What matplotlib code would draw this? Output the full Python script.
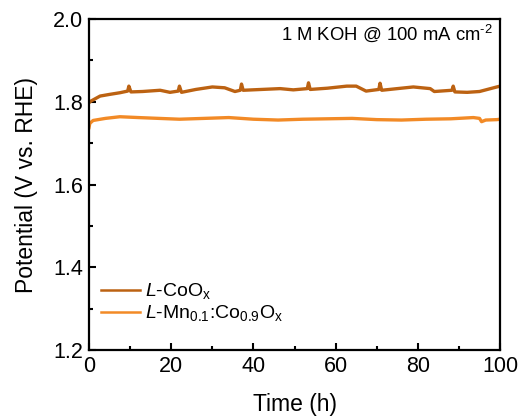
import matplotlib
matplotlib.use('Agg')
import matplotlib.pyplot as plt
from matplotlib.ticker import MultipleLocator, FormatStrFormatter

plt.rcParams['font.family'] = ['Liberation Sans', 'DejaVu Sans']
plt.rcParams['mathtext.fontset'] = 'custom'
plt.rcParams['mathtext.rm'] = 'Liberation Sans'
plt.rcParams['mathtext.it'] = 'Liberation Sans:italic'

# L-CoOx trace
coox_t = [0.0, 0.5, 2.7, 5.0, 7.5, 9.4, 9.7, 10.2, 13.0, 17.3, 19.7, 21.7, 22.0, 22.5,
          26.0, 30.0, 33.0, 35.5, 36.8, 37.1, 37.5, 42.0, 46.5, 49.7, 53.1, 53.4, 53.8,
          58.0, 62.7, 65.0, 67.4, 70.5, 70.8, 71.2, 75.0, 78.9, 83.0, 84.0, 88.3, 88.6,
          89.0, 92.0, 95.0, 99.2, 100.0]
coox_v = [1.798, 1.802, 1.814, 1.818, 1.822, 1.826, 1.838, 1.824, 1.825, 1.828, 1.823, 1.826, 1.838, 1.823,
          1.830, 1.836, 1.834, 1.825, 1.828, 1.843, 1.828, 1.830, 1.832, 1.829, 1.832, 1.846, 1.830,
          1.833, 1.838, 1.838, 1.826, 1.830, 1.845, 1.828, 1.832, 1.836, 1.832, 1.825, 1.828, 1.838,
          1.824, 1.823, 1.825, 1.836, 1.838]

# L-Mn0.1:Co0.9Ox trace
mnco_t = [0.0, 0.2, 1.0, 4.0, 7.5, 12.0, 17.0, 22.0, 28.0, 34.0, 40.0, 46.0, 52.0, 58.0,
          64.0, 70.0, 76.0, 82.0, 88.0, 93.5, 95.0, 95.5, 96.5, 99.2, 100.0]
mnco_v = [1.738, 1.748, 1.755, 1.760, 1.764, 1.762, 1.760, 1.758, 1.760, 1.762, 1.758, 1.756, 1.758, 1.759,
          1.760, 1.757, 1.756, 1.758, 1.759, 1.762, 1.760, 1.752, 1.756, 1.757, 1.758]

fig = plt.figure(figsize=(5.22, 4.16), dpi=100)
ax = fig.add_axes([0.1705, 0.1587, 0.7875, 0.7953])

ax.plot(coox_t, coox_v, color='#BC6212', lw=2.4, label=r'$\it{L}$-CoO$_{\rm x}$')
ax.plot(mnco_t, mnco_v, color='#F28A26', lw=2.4,
        label=r'$\it{L}$-Mn$_{\rm 0.1}$:Co$_{\rm 0.9}$O$_{\rm x}$')

ax.set_xlim(0, 100)
ax.set_ylim(1.2, 2.0)
ax.xaxis.set_major_locator(MultipleLocator(20))
ax.xaxis.set_minor_locator(MultipleLocator(10))
ax.yaxis.set_major_locator(MultipleLocator(0.2))
ax.yaxis.set_minor_locator(MultipleLocator(0.1))
ax.yaxis.set_major_formatter(FormatStrFormatter('%.1f'))
ax.tick_params(which='both', direction='in', top=False, right=False, labelsize=15.5, width=1.5)
ax.tick_params(which='major', length=5, pad=4)
ax.tick_params(which='minor', length=3)
for s in ax.spines.values():
    s.set_linewidth(1.6)

ax.set_xlabel('Time (h)', fontsize=16.5, labelpad=12)
ax.set_ylabel('Potential (V vs. RHE)', fontsize=16.5, labelpad=11)

ax.text(0.982, 0.99, r'1 M KOH @ 100 mA cm$^{\text{-2}}$', transform=ax.transAxes,
        ha='right', va='top', fontsize=13.3)

leg = ax.legend(loc='lower left', frameon=False, fontsize=14, handlelength=2.0,
                handletextpad=0.3, labelspacing=0.1, borderaxespad=0.2,
                bbox_to_anchor=(0.0, 0.045))
for line in leg.get_lines():
    line.set_linewidth(1.8)

fig.savefig('out.png', dpi=100)
